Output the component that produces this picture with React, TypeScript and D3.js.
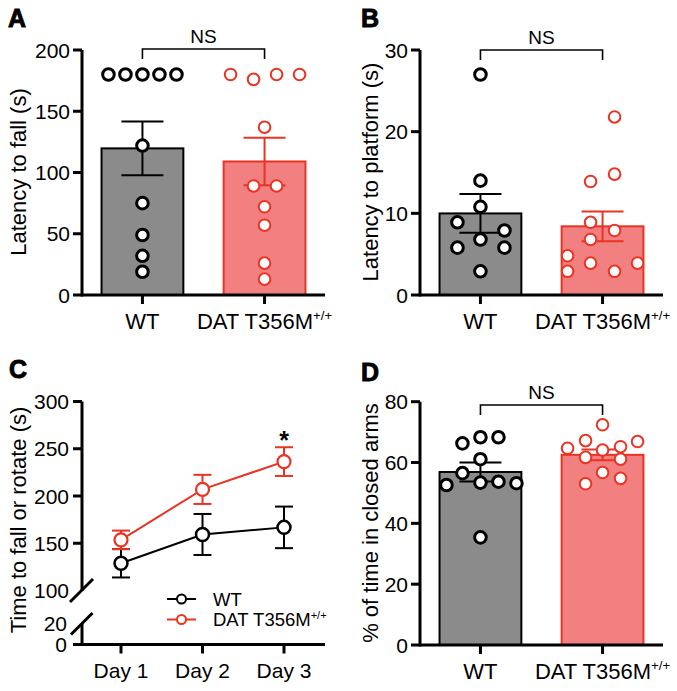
import React from 'react';
import * as d3 from 'd3';

// ---- data ----
const groups = ['WT', 'DAT T356M+/+'];

// A: latency to fall (s)
const fallWT = [180, 180, 180, 180, 180, 122, 75, 49, 32, 19];
const fallDAT = [180, 176, 180, 180, 137, 89, 89, 72, 57, 26, 13];
// B: latency to platform (s)
const platformWT = [27, 14, 10.8, 8.9, 7.9, 6.8, 5.8, 5.8, 2.9];
const platformDAT = [21.8, 14.8, 13.9, 8.9, 7.9, 6.8, 4.8, 3.9, 3.9, 2.9, 2.9];
// D: % of time in closed arms
const closedWT = [66.3, 68.3, 68.3, 61.1, 56.5, 52.6, 53.4, 53.7, 53.2, 35.4];
const closedDAT = [72.4, 64.7, 67.2, 64.1, 65.2, 66.9, 61.7, 61.1, 56.7, 53, 54.8];

// C: time to fall or rotate (s), mean and SEM per day
const days = ['Day 1', 'Day 2', 'Day 3'];
const rotateWTMean = [128.8, 159.3, 166.8];
const rotateWTSem = [15, 21.7, 22];
const rotateDATMean = [153.6, 207, 236.4];
const rotateDATSem = [9.8, 15.4, 15.2];

// horizontal scatter of the dots (px), copied from the swarm in the original
const fallWTJitter = [-34, -17, 0, 17, 34, 0, 0, 0, 0, 0];
const fallDATJitter = [-34, -11, 12, 35, 0, -11, 12, 0, 0, 0, 0];
const platformWTJitter = [0, 0, 0, -23, 24, 0, -23, 24, 0];
const platformDATJitter = [12, 12, -12, -12, 12, -12, -35, -12, 35, -35, 12];
const closedWTJitter = [-18, 0, 18, 0, -18, -34, 0, 18, 36, 0];
const closedDATJitter = [0, -35, -17, 0, 18, 35, -17, 18, 0, -17, 18];

const FONT = "'Liberation Sans', Arial, Helvetica, sans-serif";
const INK = '#000';
const GRAY = '#8b8b8b';
const RED = '#ea3323';
const SALMON = '#f28080';

const TICK_FS = 21;
const LABEL_FS = 22;

const GroupLabel = ({x, y, name, size = LABEL_FS}: {x: number, y: number, name: string, size?: number}) => {
  const sup = name.endsWith('+/+');
  const base = sup ? name.replace('+/+', '') : name;
  return (
      <text x={x} y={y} textAnchor="middle" fontSize={size}>
        {base}
        {sup && <tspan fontSize={size * 0.6} dy={-size * 0.4}>+/+</tspan>}
      </text>
  );
};

const Letter = ({x, y, t}: {x: number, y: number, t: string}) => (
    <text x={x} y={y} fontSize={25} fontWeight="bold" stroke={INK} strokeWidth={0.9}>{t}</text>
);

interface BarPanelProps {
  letter: string, letterX: number, letterY: number,
  axisX: number, axisEnd: number, yTop: number, yBase: number,
  yMax: number, ticks: number[],
  title: string, titleX: number, titleY: number,
  wt: number[], wtJitter: number[], dat: number[], datJitter: number[],
  bracketY: number,
}

const BarPanel = (p: BarPanelProps) => {
  const x = d3.scaleBand<string>().domain(groups).range([p.axisX, p.axisEnd])
      .paddingInner(0.33).paddingOuter(0.16);
  const y = d3.scaleLinear().domain([0, p.yMax]).range([p.yBase, p.yTop]);
  const series = [
    {name: groups[0], values: p.wt, jitter: p.wtJitter, fill: GRAY, stroke: INK, dotW: 3},
    {name: groups[1], values: p.dat, jitter: p.datJitter, fill: SALMON, stroke: RED, dotW: 2},
  ];
  const cx = (n: string) => (x(n) as number) + x.bandwidth() / 2;
  const c1 = cx(groups[0]), c2 = cx(groups[1]);

  return (
      <g>
        <Letter x={p.letterX} y={p.letterY} t={p.letter}/>
        {series.map(s => {
          const m = d3.mean(s.values) as number;
          return <rect key={s.name} x={x(s.name)} y={y(m)} width={x.bandwidth()} height={p.yBase - y(m)}
                       fill={s.fill} stroke={s.stroke} strokeWidth={2}/>;
        })}
        {series.map(s => {
          const m = d3.mean(s.values) as number;
          const sem = (d3.deviation(s.values) as number) / Math.sqrt(s.values.length);
          const c = cx(s.name);
          return (
              <g key={s.name} stroke={s.stroke} strokeWidth={2}>
                <line x1={c} x2={c} y1={y(m - sem)} y2={y(m + sem)}/>
                <line x1={c - 21} x2={c + 21} y1={y(m - sem)} y2={y(m - sem)}/>
                <line x1={c - 21} x2={c + 21} y1={y(m + sem)} y2={y(m + sem)}/>
              </g>
          );
        })}
        {/* axes */}
        <g stroke={INK} strokeWidth={3} fill="none">
          <path d={`M${p.axisX},${p.yTop}V${p.yBase + 1.5}`}/>
          <path d={`M${p.axisX - 9},${p.yBase}H${p.axisEnd}`}/>
          {p.ticks.filter(t => t > 0).map(t =>
              <line key={t} x1={p.axisX - 9} x2={p.axisX} y1={y(t)} y2={y(t)}/>)}
          {groups.map(g => <line key={g} x1={cx(g)} x2={cx(g)} y1={p.yBase} y2={p.yBase + 9}/>)}
        </g>
        {p.ticks.map(t =>
            <text key={t} x={p.axisX - 12} y={y(t)} dy="0.36em" textAnchor="end" fontSize={TICK_FS}>{t}</text>)}
        {groups.map(g => <GroupLabel key={g} x={cx(g)} y={p.yBase + 34} name={g}/>)}
        <text transform={`translate(${p.titleX},${p.titleY}) rotate(-90)`} textAnchor="middle"
              fontSize={LABEL_FS}>{p.title}</text>
        {/* dots */}
        {series.map(s => s.values.map((v, i) =>
            <circle key={s.name + i} cx={cx(s.name) + s.jitter[i]} cy={y(v)} r={5.8}
                    fill="#fff" stroke={s.stroke} strokeWidth={s.dotW}/>))}
        {/* NS bracket */}
        <path d={`M${c1},${p.bracketY + 10}V${p.bracketY}H${c2}V${p.bracketY + 10}`}
              fill="none" stroke={INK} strokeWidth={1.6}/>
        <text x={(c1 + c2) / 2} y={p.bracketY - 6} textAnchor="middle" fontSize={19}>NS</text>
      </g>
  );
};

const LinePanel = () => {
  const axisX = 82, axisEnd = 325;
  const x = d3.scalePoint<string>().domain(days).range([121, 284]);
  const yUp = d3.scaleLinear().domain([100, 300]).range([590.5, 401.5]);
  const yLow = d3.scaleLinear().domain([0, 20]).range([644.5, 623.5]);
  const base = yLow(0);
  const line = d3.line<number>().x((_, i) => x(days[i]) as number).y(d => yUp(d));

  const series = [
    {name: groups[0], mean: rotateWTMean, sem: rotateWTSem, color: INK, dotW: 2.5},
    {name: groups[1], mean: rotateDATMean, sem: rotateDATSem, color: RED, dotW: 2.2},
  ];

  return (
      <g>
        <Letter x={9} y={378} t="C"/>
        <g stroke={INK} strokeWidth={3} fill="none">
          <path d={`M${axisX},${yUp(300)}V${yUp(100)}`}/>
          <path d={`M${axisX},${yLow(20)}V${base + 1.5}`}/>
          <path d={`M${axisX - 9},${base}H${axisEnd}`}/>
          {/* break marks */}
          <line x1={axisX - 12} y1={yUp(100) + 11.5} x2={axisX + 11} y2={yUp(100) - 11.5}/>
          <line x1={axisX - 11} y1={yLow(20) + 11} x2={axisX + 10.5} y2={yLow(20) - 10.5}/>
          {[150, 200, 250, 300].map(t =>
              <line key={t} x1={axisX - 9} x2={axisX} y1={yUp(t)} y2={yUp(t)}/>)}
          {days.map(d => <line key={d} x1={x(d)} x2={x(d)} y1={base} y2={base + 9}/>)}
        </g>
        {[100, 150, 200, 250, 300].map(t =>
            <text key={t} x={axisX - 13} y={yUp(t)} dy="0.36em" textAnchor="end" fontSize={TICK_FS}>{t}</text>)}
        {[0, 20].map(t =>
            <text key={t} x={axisX - 15} y={yLow(t)} dy="0.36em" textAnchor="end" fontSize={TICK_FS}>{t}</text>)}
        {days.map(d => <text key={d} x={x(d)} y={base + 33} textAnchor="middle" fontSize={TICK_FS}>{d}</text>)}
        <text transform="translate(26,520) rotate(-90)" textAnchor="middle" fontSize={LABEL_FS}>
          Time to fall or rotate (s)
        </text>

        {series.map(s => (
            <g key={s.name}>
              <path d={line(s.mean) as string} fill="none" stroke={s.color} strokeWidth={2}/>
              {s.mean.map((m, i) => {
                const c = x(days[i]) as number;
                const lo = yUp(m - s.sem[i]), hi = yUp(m + s.sem[i]);
                return (
                    <g key={i} stroke={s.color} strokeWidth={2}>
                      <line x1={c} x2={c} y1={lo} y2={hi}/>
                      <line x1={c - 9} x2={c + 9} y1={lo} y2={lo}/>
                      <line x1={c - 9} x2={c + 9} y1={hi} y2={hi}/>
                    </g>
                );
              })}
              {s.mean.map((m, i) =>
                  <circle key={'c' + i} cx={x(days[i])} cy={yUp(m)} r={6.5} fill="#fff"
                          stroke={s.color} strokeWidth={s.dotW}/>)}
            </g>
        ))}
        <text x={x('Day 3')} y={449} textAnchor="middle" fontSize={25} fontWeight="bold">*</text>

        {/* legend */}
        {series.map((s, i) => {
          const ly = 599 + i * 20.5;
          return (
              <g key={s.name}>
                <line x1={167} x2={196} y1={ly} y2={ly} stroke={s.color} strokeWidth={2}/>
                <circle cx={181.5} cy={ly} r={4.5} fill="#fff" stroke={s.color} strokeWidth={2}/>
                <text x={213} y={ly} dy="0.36em" fontSize={18.5}>
                  {s.name.replace('+/+', '')}
                  {s.name.endsWith('+/+') && <tspan fontSize={11} dy={-7.5}>+/+</tspan>}
                </text>
              </g>
          );
        })}
      </g>
  );
};

const App = () => (
    <svg width={677} height={691} style={{position: 'absolute', left: 0, top: 0}}
         fontFamily={FONT} fill={INK}>
      <rect width={677} height={691} fill="#fff"/>
      <BarPanel letter="A" letterX={8} letterY={27} axisX={82} axisEnd={325} yTop={50} yBase={295}
                yMax={200} ticks={[0, 50, 100, 150, 200]} title="Latency to fall (s)" titleX={26} titleY={172}
                wt={fallWT} wtJitter={fallWTJitter} dat={fallDAT} datJitter={fallDATJitter} bracketY={49}/>
      <BarPanel letter="B" letterX={361} letterY={27} axisX={420} axisEnd={663} yTop={50} yBase={295}
                yMax={30} ticks={[0, 10, 20, 30]} title="Latency to platform (s)" titleX={378} titleY={172}
                wt={platformWT} wtJitter={platformWTJitter} dat={platformDAT} datJitter={platformDATJitter}
                bracketY={50}/>
      <LinePanel/>
      <BarPanel letter="D" letterX={361} letterY={381} axisX={420} axisEnd={663} yTop={401.7} yBase={645}
                yMax={80} ticks={[0, 20, 40, 60, 80]} title="% of time in closed arms" titleX={378}
                titleY={523}
                wt={closedWT} wtJitter={closedWTJitter} dat={closedDAT} datJitter={closedDATJitter}
                bracketY={405}/>
    </svg>
);

export default App;
